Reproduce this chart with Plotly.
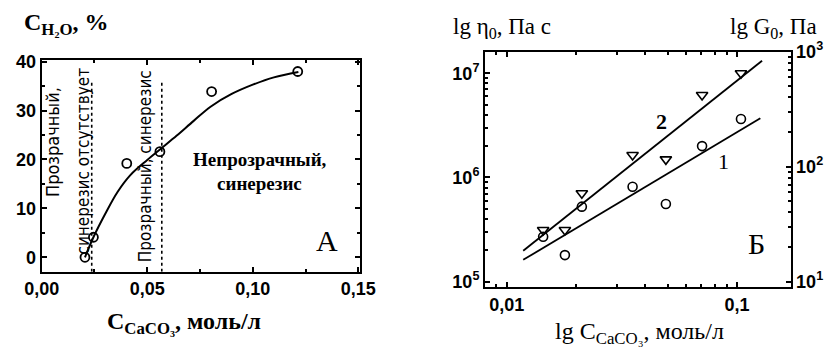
import plotly.graph_objects as go

W, H = 836, 359
OFF = 8  # page body margin of the html page

# ---------------- data, panel A ----------------
a_conc = [0.0205, 0.0245, 0.0403, 0.0560, 0.0805, 0.1213]          # C CaCO3, mol/l
a_water = [0.0, 4.1, 19.2, 21.6, 33.9, 38.0]                        # C H2O, %
a_fit_conc = [0.0205, 0.0245, 0.0300, 0.0360, 0.0420, 0.0500, 0.0570,
              0.0640, 0.0720, 0.0800, 0.0900, 0.1000, 0.1100, 0.1216]
a_fit_water = [0.0, 4.1, 8.8, 13.4, 16.8, 19.9, 22.4,
               24.9, 27.9, 30.8, 33.4, 35.3, 36.8, 37.9]
a_bounds = [0.0237, 0.0569]
a_bound_top = 35.9
a_xticks = [0.0, 0.05, 0.10, 0.15]
a_xticktext = ["0,00", "0,05", "0,10", "0,15"]
a_yticks = [0, 10, 20, 30, 40]
a_yticktext = ["0", "10", "20", "30", "40"]

# ---------------- data, panel B ----------------
b_conc = [0.0144, 0.0179, 0.0212, 0.0352, 0.0491, 0.0705, 0.104]
b_eta = [2.70e5, 1.80e5, 5.25e5, 8.16e5, 5.57e5, 2.00e6, 3.64e6]    # curve 1, Pa s
b_g = [28.2, 28.2, 58.8, 126.5, 115.9, 420.0, 649.0]                # curve 2, Pa
b_fit_conc = [0.0118, 0.1262]
b_fit_eta = [1.62e5, 3.70e6]
b_fit_g_conc = [0.0118, 0.1284]
b_fit_g = [18.6, 835.0]
b_xticks = [0.01, 0.1]
b_xticktext = ["0,01", "0,1"]
b_yticks = [1e5, 1e6, 1e7]
b_yticktext = ["10<sup>5</sup>", "10<sup>6</sup>", "10<sup>7</sup>"]
b_y2ticks = [1e1, 1e2, 1e3]
b_y2ticktext = ["10<sup>1</sup>", "10<sup>2</sup>", "10<sup>3</sup>"]


def log_minor(lo_exp, hi_exp):
    vals = []
    for e in range(lo_exp, hi_exp):
        for m in range(2, 10):
            vals.append(m * 10 ** e)
    return vals


def X(p):
    return (p - OFF) / W


def Y(p):
    return 1 - (p - OFF) / H


SERIF = "Liberation Serif, Times New Roman, serif"
SANS = "Liberation Sans, Arial, sans-serif"
tickfont = dict(family=SANS, size=18, color="black", weight="bold")

fig = go.Figure()

# panel A
fig.add_trace(go.Scatter(x=a_fit_conc, y=a_fit_water, mode="lines",
                         line=dict(color="black", width=2, shape="spline", smoothing=1.0),
                         xaxis="x", yaxis="y", showlegend=False))
for b in a_bounds:
    fig.add_trace(go.Scatter(x=[b, b], y=[-2.95, a_bound_top], mode="lines",
                             line=dict(color="black", width=1.6, dash="dot"),
                             xaxis="x", yaxis="y", showlegend=False))
fig.add_trace(go.Scatter(x=a_conc, y=a_water, mode="markers",
                         marker=dict(symbol="circle-open", size=9, color="black",
                                     line=dict(width=1.8, color="black")),
                         xaxis="x", yaxis="y", showlegend=False))

# panel B
fig.add_trace(go.Scatter(x=b_fit_conc, y=b_fit_eta, mode="lines",
                         line=dict(color="black", width=1.8),
                         xaxis="x2", yaxis="y2", showlegend=False))
fig.add_trace(go.Scatter(x=b_conc, y=b_eta, mode="markers",
                         marker=dict(symbol="circle-open", size=9, color="black",
                                     line=dict(width=1.6, color="black")),
                         xaxis="x2", yaxis="y2", showlegend=False))
fig.add_trace(go.Scatter(x=b_fit_g_conc, y=b_fit_g, mode="lines",
                         line=dict(color="black", width=1.8),
                         xaxis="x2", yaxis="y3", showlegend=False))
fig.add_trace(go.Scatter(x=b_conc, y=b_g, mode="markers",
                         marker=dict(symbol="triangle-down-open", size=10, color="black",
                                     line=dict(width=1.6, color="black")),
                         xaxis="x2", yaxis="y3", showlegend=False))

axis_common = dict(showline=True, linecolor="black", linewidth=2, ticks="inside",
                   ticklen=5, tickwidth=1.5, tickcolor="black", showgrid=False,
                   zeroline=False, tickfont=tickfont, automargin=False)

fig.update_layout(
    width=W, height=H, margin=dict(l=0, r=0, t=0, b=0, pad=0, autoexpand=False),
    paper_bgcolor="white", plot_bgcolor="white", showlegend=False,
    xaxis=dict(domain=[X(41.7), X(360)], range=[0, 0.1508], anchor="y",
               tickvals=a_xticks, ticktext=a_xticktext, mirror="ticks",
               minor=dict(ticks="inside", ticklen=3, tickcolor="black",
                          tickmode="array", tickvals=[0.025, 0.075, 0.125]),
               **axis_common),
    yaxis=dict(domain=[Y(271.7), Y(60)], range=[-2.95, 40.35], anchor="x",
               tickvals=a_yticks, ticktext=a_yticktext, mirror="ticks",
               minor=dict(ticks="inside", ticklen=3, tickcolor="black",
                          tickmode="array", tickvals=[5, 15, 25, 35]),
               **axis_common),
    xaxis2=dict(domain=[X(485), X(790.5)], type="log", range=[-2.094, -0.768],
                anchor="y2", tickvals=b_xticks, ticktext=b_xticktext, mirror="ticks",
                minor=dict(ticks="inside", ticklen=3, tickcolor="black",
                           tickmode="array", tickvals=log_minor(-3, 0)),
                **axis_common),
    yaxis2=dict(domain=[Y(287), Y(51.7)], type="log", range=[4.949, 7.207],
                anchor="x2", tickvals=b_yticks, ticktext=b_yticktext,
                minor=dict(ticks="inside", ticklen=3, tickcolor="black",
                           tickmode="array", tickvals=log_minor(4, 8)),
                **axis_common),
    yaxis3=dict(domain=[Y(287), Y(51.7)], type="log", range=[0.954, 3.0],
                anchor="x2", overlaying="y2", side="right",
                tickvals=b_y2ticks, ticktext=b_y2ticktext,
                minor=dict(ticks="inside", ticklen=3, tickcolor="black",
                           tickmode="array", tickvals=log_minor(0, 4)),
                **axis_common),
)

ann = []


def text(s, x, y, size, family=SERIF, angle=0, weight="normal"):
    ann.append(dict(text=s, x=X(x), y=Y(y), xref="paper", yref="paper",
                    xanchor="center", yanchor="middle", showarrow=False,
                    textangle=angle,
                    font=dict(family=family, size=size, color="black", weight=weight)))


# titles
text("C<sub>H₂O</sub>, %", 66, 24, 24, weight="bold")
text("C<sub>CaCO₃</sub>, моль/л", 184, 323, 24, weight="bold")
text("lg η<sub>0</sub>, Па с", 502, 28, 23)
text("lg G<sub>0</sub>, Па", 773, 28, 23)
text("lg C<sub>CaCO₃</sub>, моль/л", 639, 333, 24)

# panel A labels
NARROW = "Liberation Sans Narrow, DejaVu Sans Condensed, Liberation Sans, sans-serif"
text("Прозрачный,", 52.5, 142.5, 18, family=NARROW, angle=-90)
text("синерезис отсутствует", 82.5, 161, 17, family=NARROW, angle=-90)
text("Прозрачный, синерезис", 144.5, 166.7, 17, family=NARROW, angle=-90)
text("Непрозрачный,", 260.5, 159.3, 19, weight="bold")
text("синерезис", 259, 183.3, 19, weight="bold")
text("A", 326.7, 240, 30)

# panel B labels
text("2", 661.7, 121.7, 22, weight="bold")
text("1", 723.3, 161.7, 22)
text("Б", 756.7, 243.3, 30)

fig.update_layout(annotations=ann)
fig.write_html("out.html")
